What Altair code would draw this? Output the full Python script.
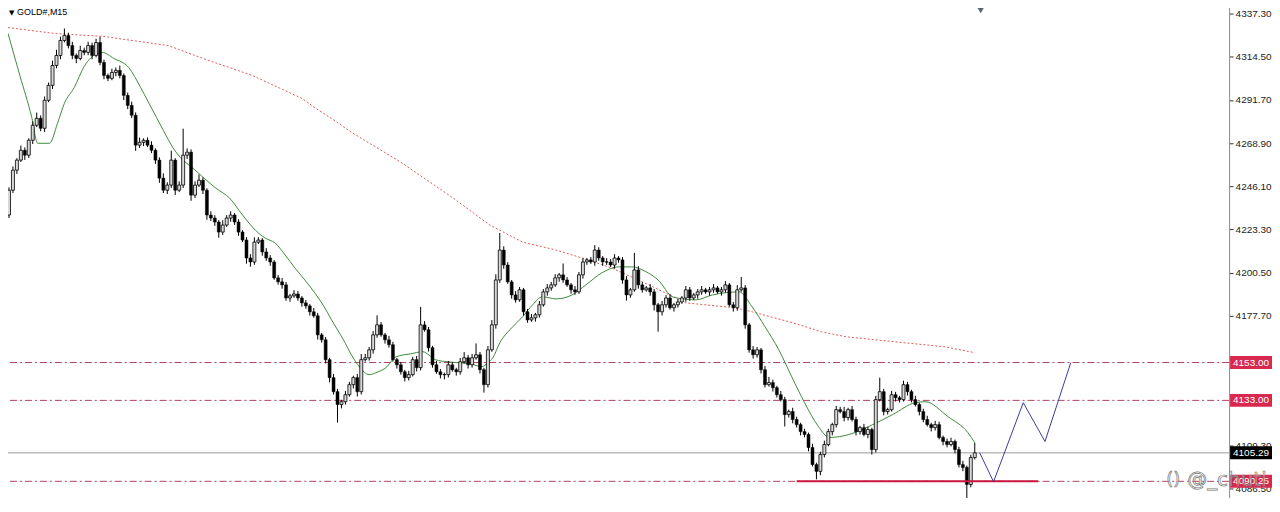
import altair as alt
import pandas as pd

# ---------------- data ----------------
first_open = 4230.9
closes = [
    4244.0, 4254.6, 4259.9, 4265.1, 4262.5, 4270.4, 4278.3, 4282.0, 4276.7, 4291.5,
    4299.4, 4309.9, 4315.2, 4323.1, 4325.7, 4320.4, 4315.2, 4313.6, 4317.8, 4316.8,
    4320.4, 4315.2, 4322.0, 4311.5, 4304.6, 4303.1, 4306.2, 4307.3, 4304.6, 4294.1,
    4288.8, 4283.6, 4267.8, 4269.3, 4270.4, 4267.8, 4265.1, 4259.9, 4250.4, 4244.0,
    4246.7, 4259.9, 4244.0, 4246.7, 4262.5, 4264.1, 4241.4, 4246.7, 4249.3, 4244.0,
    4230.9, 4229.3, 4227.2, 4221.9, 4225.6, 4229.3, 4230.9, 4227.2, 4221.9, 4217.7,
    4208.2, 4206.1, 4216.6, 4217.7, 4211.4, 4208.2, 4206.1, 4197.7, 4195.6, 4194.0,
    4187.1, 4188.2, 4189.2, 4187.1, 4184.5, 4182.9, 4179.8, 4177.7, 4167.6, 4165.0,
    4154.5, 4145.0, 4137.6, 4130.8, 4132.3, 4136.0, 4141.3, 4145.0, 4137.6, 4154.5,
    4155.5, 4159.7, 4167.6, 4172.9, 4167.6, 4165.0, 4162.4, 4154.5, 4151.8, 4148.1,
    4145.0, 4146.6, 4154.5, 4150.3, 4172.9, 4170.3, 4160.8, 4151.8, 4148.1, 4146.6,
    4146.6, 4151.8, 4149.2, 4148.1, 4153.4, 4155.5, 4151.8, 4155.5, 4157.1, 4149.2,
    4141.3, 4159.7, 4172.9, 4196.6, 4212.4, 4204.5, 4195.6, 4188.7, 4186.1, 4191.4,
    4179.8, 4175.5, 4176.6, 4178.2, 4183.5, 4190.3, 4192.4, 4194.0, 4197.7, 4199.3,
    4196.6, 4194.0, 4191.4, 4190.3, 4199.3, 4206.1, 4207.2, 4206.1, 4212.4, 4208.2,
    4206.1, 4206.1, 4204.5, 4208.2, 4207.2, 4196.6, 4188.7, 4191.4, 4201.9, 4194.0,
    4191.4, 4192.4, 4190.3, 4183.5, 4179.8, 4183.5, 4187.1, 4181.9, 4183.5, 4185.0,
    4187.1, 4191.4, 4187.1, 4188.7, 4190.3, 4191.4, 4190.3, 4191.4, 4192.4, 4190.3,
    4191.4, 4194.0, 4183.5, 4181.9, 4191.4, 4192.4, 4172.9, 4159.7, 4157.1, 4159.7,
    4149.2, 4141.3, 4142.4, 4139.7, 4136.0, 4133.4, 4125.5, 4127.1, 4122.9, 4120.2,
    4116.5, 4115.0, 4108.1, 4099.1, 4095.5, 4104.4, 4109.7, 4116.5, 4120.2, 4128.1,
    4127.1, 4123.9, 4128.1, 4122.9, 4116.5, 4118.6, 4115.0, 4117.6, 4107.0, 4133.4,
    4137.6, 4127.1, 4128.1, 4136.0, 4134.4, 4133.4, 4141.3, 4137.6, 4133.4, 4130.8,
    4127.1, 4122.9, 4120.2, 4118.6, 4120.2, 4113.4, 4111.3, 4109.7, 4111.3, 4107.0,
    4099.1, 4097.6, 4088.6, 4102.8, 4105.3,
]
up_wick = [
    1.5, 2.0, 1.0, 2.5, 1.5, 1.0, 2.0, 3.0, 1.5, 2.0,
    1.5, 2.5, 3.0, 2.0, 3.7, 1.5, 2.0, 1.0, 2.5, 1.5,
    2.0, 1.5, 2.0, 3.0, 1.5, 1.0, 2.0, 1.5, 2.5, 1.0,
    1.5, 2.0, 1.5, 2.5, 1.0, 1.5, 2.0, 1.0, 1.5, 2.5,
    1.5, 5.0, 1.0, 2.0, 14.0, 2.0, 1.5, 2.0, 3.0, 1.5,
    1.0, 2.0, 1.5, 1.0, 2.5, 1.5, 2.0, 1.0, 1.5, 1.0,
    1.5, 2.0, 2.5, 1.5, 1.0, 2.0, 1.5, 1.0, 1.5, 2.0,
    1.5, 1.0, 2.0, 1.5, 1.0, 1.5, 1.0, 2.0, 1.5, 1.0,
    1.5, 1.0, 2.0, 1.5, 1.0, 2.0, 1.5, 1.0, 2.0, 3.0,
    2.0, 1.5, 2.0, 5.0, 1.5, 1.0, 2.0, 1.5, 1.0, 1.5,
    1.0, 2.0, 1.5, 2.0, 9.5, 2.0, 1.5, 1.0, 2.0, 1.5,
    1.0, 2.0, 1.5, 1.0, 2.0, 3.0, 1.5, 2.0, 6.0, 1.5,
    1.0, 2.0, 2.5, 3.0, 9.0, 2.0, 1.5, 1.0, 2.0, 1.5,
    1.0, 1.5, 2.0, 1.0, 2.0, 1.5, 2.0, 1.5, 2.0, 1.0,
    6.0, 1.5, 1.0, 2.0, 1.5, 2.0, 1.0, 1.5, 2.6, 1.5,
    1.0, 2.0, 1.5, 2.0, 1.0, 1.5, 2.0, 1.0, 9.0, 2.0,
    1.5, 1.0, 2.0, 1.5, 1.0, 2.0, 1.5, 2.0, 1.0, 1.5,
    1.0, 2.0, 1.5, 1.0, 1.5, 2.0, 1.0, 1.5, 2.0, 1.0,
    1.5, 2.0, 1.0, 1.5, 2.5, 5.8, 1.5, 1.0, 2.0, 1.5,
    1.0, 2.0, 3.0, 1.5, 1.0, 2.0, 1.5, 1.0, 2.0, 1.5,
    1.0, 1.5, 1.0, 2.0, 1.0, 1.5, 2.0, 1.5, 1.0, 2.0,
    1.5, 2.5, 1.0, 2.0, 1.5, 1.0, 2.0, 1.5, 1.0, 2.0,
    7.4, 1.5, 1.0, 2.0, 1.5, 1.0, 2.1, 1.5, 1.0, 2.0,
    1.0, 1.5, 2.0, 1.0, 2.0, 1.5, 1.0, 1.5, 2.0, 1.0,
    1.5, 2.0, 1.0, 1.5, 5.3,
]
dn_wick = [
    1.6, 1.5, 2.0, 1.0, 2.5, 1.5, 2.0, 1.0, 1.5, 2.0,
    1.0, 2.0, 1.5, 2.0, 1.0, 1.5, 2.0, 2.5, 1.0, 1.5,
    1.5, 2.0, 1.0, 1.5, 2.0, 1.5, 1.0, 2.0, 1.5, 2.5,
    2.0, 1.5, 3.0, 1.5, 2.0, 1.0, 1.5, 2.0, 2.5, 1.5,
    2.0, 1.5, 2.5, 1.0, 1.5, 2.0, 3.0, 1.5, 1.0, 2.0,
    2.5, 1.5, 2.0, 3.0, 1.5, 1.0, 2.0, 1.5, 2.0, 1.0,
    3.0, 2.5, 1.5, 1.0, 2.0, 1.5, 2.0, 1.0, 1.5, 2.0,
    1.5, 2.0, 1.0, 1.5, 2.0, 1.5, 2.0, 1.0, 2.5, 1.5,
    2.0, 2.5, 1.5, 9.5, 2.0, 1.5, 1.0, 2.0, 2.5, 1.5,
    1.0, 1.5, 2.0, 1.5, 1.0, 2.0, 1.5, 1.0, 2.0, 1.5,
    2.0, 1.5, 1.0, 2.0, 1.5, 1.0, 2.0, 1.5, 1.0, 2.0,
    2.5, 1.5, 1.0, 2.0, 1.5, 1.0, 2.0, 1.5, 1.0, 2.0,
    4.2, 1.5, 1.0, 2.0, 1.5, 2.0, 1.0, 2.0, 1.5, 1.0,
    2.0, 1.5, 1.0, 2.0, 1.5, 1.0, 2.0, 1.5, 1.0, 2.0,
    1.5, 1.0, 2.0, 1.5, 1.0, 2.0, 1.5, 1.0, 2.0, 1.5,
    2.0, 1.5, 1.0, 2.0, 1.5, 2.0, 3.0, 1.5, 1.0, 2.0,
    1.5, 1.0, 2.0, 3.0, 10.5, 2.0, 1.5, 1.0, 2.0, 1.5,
    1.0, 2.0, 1.5, 1.0, 2.0, 1.5, 1.0, 2.0, 1.5, 1.0,
    2.0, 1.5, 1.0, 2.0, 1.5, 1.0, 2.0, 1.5, 2.0, 1.5,
    2.0, 1.5, 1.0, 2.0, 1.5, 1.0, 6.3, 1.5, 2.0, 1.5,
    2.0, 1.5, 2.0, 1.0, 4.2, 2.0, 1.5, 1.0, 2.0, 1.5,
    1.0, 2.0, 1.5, 1.0, 2.0, 1.5, 1.0, 2.0, 2.6, 1.5,
    1.0, 2.0, 1.5, 1.0, 2.0, 1.5, 1.0, 2.0, 1.5, 1.0,
    2.0, 1.5, 1.0, 2.0, 1.5, 1.0, 2.0, 1.5, 1.0, 2.0,
    1.5, 2.0, 7.9, 1.5, 1.0,
]

# moving averages read at points (bar index, price)
ma_fast_i = [-0.25, 2.75, 5.75, 7.25, 10.25, 12.25, 14, 16.5, 19, 20.75, 23.5, 26.5, 30.25,
             33.25, 35.25, 37.25, 39, 41.5, 43.25, 46.5, 49, 52.25, 55.75, 59, 62.25, 64.75,
             67.25, 69.75, 72.25, 74.75, 77.25, 79.5, 81.5, 84.5, 86.5, 88.5, 91, 93.25, 95.25,
             97.75, 101.5, 104.5, 107.75, 110.75, 113.5, 116.5, 119.5, 121, 122.25, 124, 127,
             129.75, 132.25, 134.75, 138.25, 142.25, 145.75, 149.75, 154, 157.25, 161.5, 164,
             167.75, 173.5, 177.75, 184.5, 187.75, 191, 194.5, 197.75, 201, 204.5, 207.25,
             212.25, 218.25, 223.25, 229, 231.5, 237.25, 242.25, 244]
ma_fast_p = [4326.8, 4304.6, 4282.5, 4268.8, 4268.8, 4279.3, 4289.9, 4298.3, 4309.4, 4314.1,
             4316.8, 4313.6, 4308.8, 4298.3, 4290.4, 4282.5, 4275.6, 4266.2, 4261.4, 4255.6,
             4250.9, 4245.1, 4239.8, 4230.9, 4222.9, 4218.7, 4216.1, 4209.8, 4202.9, 4196.6,
             4189.8, 4182.9, 4175.5, 4165.0, 4157.1, 4150.8, 4146.6, 4148.1, 4150.3, 4156.0,
             4157.6, 4158.7, 4154.5, 4153.4, 4152.9, 4152.4, 4150.8, 4152.9, 4155.5, 4163.4,
             4171.3, 4177.1, 4183.4, 4187.7, 4186.6, 4188.7, 4194.0, 4200.3, 4203.5, 4203.5,
             4200.3, 4196.6, 4187.6, 4186.1, 4188.7, 4190.3, 4182.4, 4171.9, 4159.7, 4145.5,
             4131.8, 4119.2, 4113.4, 4115.0, 4120.2, 4125.5, 4131.8, 4132.3, 4124.4, 4116.0,
             4110.7]
ma_slow_i = [-0.25, 11.5, 24, 40.25, 49, 61.5, 74, 78.25, 81.5, 86.5, 99, 111.5, 121.5, 129.75,
             138.25, 146.5, 152.25, 159, 162.75, 171, 183.5, 187.75, 199, 205.25, 211.5, 224,
             236.5, 244]
ma_slow_p = [4329.9, 4326.8, 4325.2, 4320.4, 4313.6, 4304.6, 4292.5, 4286.2, 4281.9, 4274.6,
             4258.8, 4240.9, 4225.6, 4216.6, 4212.4, 4207.1, 4202.9, 4196.6, 4192.9, 4184.5,
             4181.9, 4179.8, 4173.4, 4169.2, 4166.6, 4163.9, 4161.3, 4158.2]

# projected path
proj_i = [245.25, 248.75, 256.25, 261.75, 268.25]
proj_p = [4105.3, 4090.0, 4131.8, 4111.3, 4152.9]

levels = [4153.00, 4133.00, 4090.25]
level_labels = ["4153.00", "4133.00", "4090.25"]
bid = 4105.29
support_i = [199, 260]
support_p = 4090.25

tick_vals = [4337.30, 4314.50, 4291.70, 4268.90, 4246.10, 4223.30, 4200.50, 4177.70,
             4154.90, 4132.10, 4109.30, 4086.50]
symbol = "GOLD#,M15"
watermark = "@_chuti"

# ---------------- tables ----------------
n = len(closes)
opens = [first_open] + closes[:-1]
bars = pd.DataFrame({
    "i": list(range(n)),
    "o": opens,
    "c": closes,
})
bars["hi"] = [max(o, c) + u for o, c, u in zip(opens, closes, up_wick)]
bars["lo"] = [min(o, c) - d for o, c, d in zip(opens, closes, dn_wick)]
bars["bull"] = bars["c"] >= bars["o"]

fast = pd.DataFrame({"i": ma_fast_i, "p": ma_fast_p})
slow = pd.DataFrame({"i": ma_slow_i, "p": ma_slow_p})
proj = pd.DataFrame({"i": proj_i, "p": proj_p})
lev = pd.DataFrame({"p": levels, "t": level_labels})
bidf = pd.DataFrame({"p": [bid], "t": [f"{bid:.2f}"]})
sup = pd.DataFrame({"i": [support_i[0]], "i2": [support_i[1]], "p": [support_p]})

FONT = "Liberation Sans"
xs = alt.Scale(domain=[-0.25, 307], nice=False, zero=False)
ys = alt.Scale(domain=[4081.75, 4342.57], nice=False, zero=False)
yax = alt.Axis(orient="right", values=tick_vals, format=".2f", grid=False, title=None,
               domainColor="#8a8a8a", tickColor="#333", tickSize=4, labelFont=FONT,
               labelFontSize=10, labelColor="#222", labelPadding=2)

def X(f="i"):
    return alt.X(f"{f}:Q", scale=xs, axis=None)

def Y(f="p"):
    return alt.Y(f"{f}:Q", scale=ys, axis=yax)

lines_lev = alt.Chart(lev).mark_rule(color="#b4405e", strokeWidth=1,
                                     strokeDash=[7, 3, 2, 3]).encode(y=Y())
line_bid = alt.Chart(bidf).mark_rule(color="#9a9a9a", strokeWidth=1).encode(y=Y())
slow_l = alt.Chart(slow).mark_line(color="#e05a5a", strokeWidth=1,
                                   strokeDash=[2, 2]).encode(x=X(), y=Y())
fast_l = alt.Chart(fast).mark_line(color="#3d8b3d", strokeWidth=1,
                                   interpolate="monotone").encode(x=X(), y=Y())
wicks = alt.Chart(bars).mark_rule(color="#000", strokeWidth=1).encode(
    x=X(), y=Y("lo"), y2="hi:Q")
bull = alt.Chart(bars).transform_filter("datum.bull").mark_bar(
    size=3, fill="#d8d8d8", stroke="#000", strokeWidth=0.8).encode(
    x=X(), y=Y("o"), y2="c:Q")
bear = alt.Chart(bars).transform_filter("!datum.bull").mark_bar(
    size=3, fill="#000", stroke="#000", strokeWidth=0.5).encode(
    x=X(), y=Y("o"), y2="c:Q")
sup_l = alt.Chart(sup).mark_rule(color="#c8163c", strokeWidth=2).encode(
    x=X(), x2="i2:Q", y=Y())
proj_l = alt.Chart(proj).mark_line(color="#3c3c96", strokeWidth=1).encode(x=X(), y=Y())

box_lev = alt.Chart(lev).mark_rule(color="#d8284f", strokeWidth=13, strokeCap="butt").encode(
    x=alt.value(1230), x2=alt.value(1272), y=Y())
box_bid = alt.Chart(bidf).mark_rule(color="#000", strokeWidth=13, strokeCap="butt").encode(
    x=alt.value(1230), x2=alt.value(1272), y=Y())
txt_lev = alt.Chart(lev).mark_text(color="white", font=FONT, fontSize=10, align="center",
                                   baseline="middle").encode(
    x=alt.value(1251), y=Y(), text="t:N")
txt_bid = alt.Chart(bidf).mark_text(color="white", font=FONT, fontSize=10, align="center",
                                    baseline="middle").encode(
    x=alt.value(1251), y=Y(), text="t:N")

title_tri = alt.Chart(bidf).mark_text(text="▼", font="DejaVu Sans", fontSize=7, color="#000",
                                      align="left", baseline="alphabetic").encode(
    x=alt.value(6), y=alt.value(11))
title_txt = alt.Chart(bidf).mark_text(text=symbol, font=FONT, fontSize=9, color="#000",
                                      align="left", baseline="alphabetic").encode(
    x=alt.value(14), y=alt.value(11.5))
shift_mark = alt.Chart(pd.DataFrame({"i": [245.5]})).mark_point(
    shape="triangle-down", filled=True, size=40, color="#5a6470", opacity=1).encode(
    x=X(), y=alt.value(7))
wm = alt.Chart(bidf).mark_text(text=watermark, font="DejaVu Sans", fontSize=20, fill="#ffffff",
                               fillOpacity=0.35, stroke="#777", strokeWidth=0.7,
                               align="left", baseline="middle").encode(
    x=alt.value(1187), y=alt.value(478))
wm_logo = alt.Chart(bidf).mark_text(text="()", font="DejaVu Sans", fontSize=18, fill="#ffffff",
                                    fillOpacity=0.3, stroke="#777", strokeWidth=0.7,
                                    align="left", baseline="middle").encode(
    x=alt.value(1166), y=alt.value(478))

chart = alt.layer(
    lines_lev, line_bid, slow_l, fast_l, wicks, bull, bear, sup_l, proj_l,
    box_lev, box_bid, txt_lev, txt_bid, title_tri, title_txt,
    shift_mark, wm_logo, wm,
).properties(
    width=1229, height=495,
    autosize=alt.AutoSizeParams(type="none"),
    padding={"left": -5, "top": -5, "right": 43, "bottom": 0},
    background="white",
).configure_view(stroke=None)

chart.save("out.html", embed_options={"renderer": "svg", "actions": False})
